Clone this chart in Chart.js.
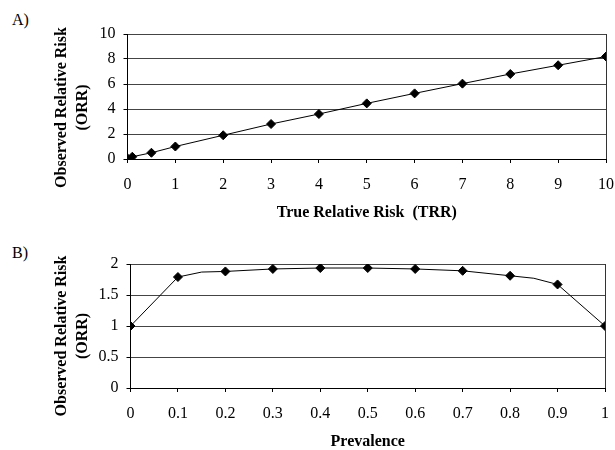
<!DOCTYPE html>
<html lang="en">
<head>
  <meta charset="UTF-8">
  <title>Observed vs True Relative Risk</title>
  <script src="https://cdn.jsdelivr.net/npm/chart.js"></script>
  <style>
    html, body { margin: 0; padding: 0; background: #fff; overflow: hidden; }
    body { width: 615px; height: 450px; position: relative; font-family: "Liberation Serif", serif; }
    .panel { position: absolute; left: 0; width: 615px; height: 225px; }
    .tag { position: absolute; left: 12px; font-size: 16px; color: #000; }
  </style>
</head>
<body>
  <div class="tag" style="top:11px">A)</div>
  <div class="tag" style="top:244px">B)</div>
  <div class="panel" style="top:0"><canvas id="chartA" width="615" height="225"></canvas></div>
  <div class="panel" style="top:225px"><canvas id="chartB" width="615" height="225"></canvas></div>

  <script>
    // Panel A: true vs observed relative risk
    const trr = [0, 0.1, 0.5, 1, 2, 3, 4, 5, 6, 7, 8, 9, 10];
    const orrA = [0.05, 0.18, 0.5, 1.0, 1.9, 2.8, 3.6, 4.45, 5.25, 6.03, 6.8, 7.5, 8.2];
    const xTicksA = [0, 1, 2, 3, 4, 5, 6, 7, 8, 9, 10];
    const yTicksA = [0, 2, 4, 6, 8, 10];

    // Panel B: prevalence vs observed relative risk
    const prevalence = [0, 0.1, 0.2, 0.3, 0.4, 0.5, 0.6, 0.7, 0.8, 0.9, 1];
    const orrB = [1.0, 1.79, 1.88, 1.92, 1.935, 1.935, 1.92, 1.89, 1.81, 1.67, 1.0];
    // bends of the drawn curve that have no marker
    const bendX = [0.15, 0.85];
    const bendORR = [1.87, 1.77];
    const xTicksB = [0, 0.1, 0.2, 0.3, 0.4, 0.5, 0.6, 0.7, 0.8, 0.9, 1];
    const yTicksB = [0, 0.5, 1, 1.5, 2];

    const yTitle = ['Observed Relative Risk', '(ORR)'];

    Chart.defaults.font.family = 'Liberation Serif';
    Chart.defaults.color = '#000';

    // right-hand frame line and the y title (sits a bit lower than the plot centre)
    const frame = {
      id: 'frame',
      afterDraw(chart, args, opts) {
        const { ctx, chartArea: a } = chart;
        ctx.save();
        ctx.strokeStyle = '#333';
        ctx.lineWidth = 1;
        ctx.beginPath();
        ctx.moveTo(a.right + 0.5, a.top);
        ctx.lineTo(a.right + 0.5, a.bottom);
        ctx.stroke();

        ctx.fillStyle = '#000';
        ctx.font = 'bold 16px "Liberation Serif"';
        ctx.textAlign = 'center';
        ctx.textBaseline = 'middle';
        ctx.translate(62, (a.top + a.bottom) / 2 + opts.shift);
        ctx.rotate(-Math.PI / 2);
        yTitle.forEach((t, i) => ctx.fillText(t, 0, i * 21));
        ctx.restore();
      }
    };

    function makeChart(id, datasets, cfg) {
      return new Chart(document.getElementById(id), {
        type: 'scatter',
        data: { datasets },
        plugins: [frame],
        options: {
          responsive: false,
          animation: false,
          layout: { padding: cfg.padding },
          plugins: {
            legend: { display: false },
            tooltip: { enabled: false },
            frame: { shift: cfg.titleShift }
          },
          scales: {
            x: {
              type: 'linear',
              min: cfg.xTicks[0],
              max: cfg.xTicks[cfg.xTicks.length - 1],
              afterBuildTicks: s => { s.ticks = cfg.xTicks.map(v => ({ value: v })); },
              afterFit: s => { s.height = cfg.xAxisH; s.paddingLeft = 0; s.paddingRight = 0; },
              grid: { drawOnChartArea: false, tickLength: 4, tickColor: '#000' },
              border: { color: '#000' },
              ticks: { font: { size: 16 }, padding: 12, maxRotation: 0, callback: v => String(v) },
              title: {
                display: true, text: cfg.xTitle,
                font: { size: 16, weight: 'bold', lineHeight: 1 },
                padding: { top: 0, bottom: cfg.xTitlePad }
              }
            },
            y: {
              min: cfg.yTicks[0],
              max: cfg.yTicks[cfg.yTicks.length - 1],
              afterBuildTicks: s => { s.ticks = cfg.yTicks.map(v => ({ value: v })); },
              afterFit: s => { s.width = cfg.yAxisW; s.paddingTop = 0; s.paddingBottom = 0; },
              grid: { color: '#444', tickLength: 4, tickColor: '#000' },
              border: { color: '#000' },
              ticks: { font: { size: 16 }, padding: 8, callback: v => String(v) }
            }
          }
        }
      });
    }

    makeChart('chartA', [{
      data: trr.map((x, i) => ({ x, y: orrA[i] })),
      showLine: true,
      borderColor: '#000',
      borderWidth: 1,
      pointStyle: 'rectRot',
      pointRadius: 4.5,
      pointBackgroundColor: '#000',
      pointBorderColor: '#000'
    }], {
      padding: { left: 40, top: 34, right: 9, bottom: 0 },
      xTicks: xTicksA, yTicks: yTicksA,
      xAxisH: 66, xTitlePad: 4, yAxisW: 87.5, titleShift: 11,
      xTitle: 'True Relative Risk  (TRR)'
    });

    const curveB = prevalence.map((x, i) => ({ x, y: orrB[i] }))
      .concat(bendX.map((x, i) => ({ x, y: bendORR[i] })))
      .sort((a, b) => a.x - b.x);

    makeChart('chartB', [{
      data: curveB,
      showLine: true,
      borderColor: '#000',
      borderWidth: 1,
      pointRadius: 0
    }, {
      data: prevalence.map((x, i) => ({ x, y: orrB[i] })),
      showLine: false,
      pointStyle: 'rectRot',
      pointRadius: 4.5,
      pointBackgroundColor: '#000',
      pointBorderColor: '#000'
    }], {
      padding: { left: 40, top: 39, right: 10, bottom: 0 },
      xTicks: xTicksB, yTicks: yTicksB,
      xAxisH: 62, xTitlePad: 0, yAxisW: 90.5, titleShift: 10,
      xTitle: 'Prevalence'
    });
  </script>
</body>
</html>
